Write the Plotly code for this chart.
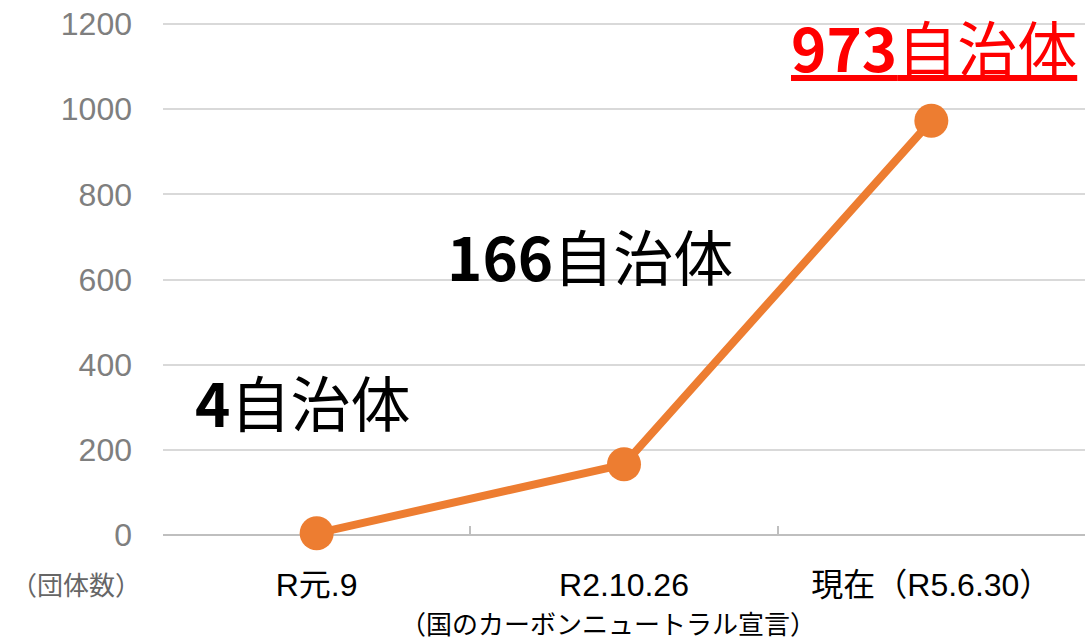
import plotly.graph_objects as go

categories = ["R元.9", "R2.10.26", "現在（R5.6.30）"]
category_notes = ["", "（国のカーボンニュートラル宣言）", ""]
values = [4, 166, 973]
value_labels = ["4自治体", "166自治体", "973自治体"]
y_ticks = [0, 200, 400, 600, 800, 1000, 1200]
y_title = "（団体数）"

ORANGE = "#ED7D31"
FONT = "Liberation Sans, Noto Sans CJK JP, sans-serif"
JP = "Noto Sans CJK JP, sans-serif"

fig = go.Figure()
fig.add_trace(go.Scatter(
    x=categories, y=values, mode="lines+markers",
    line=dict(color=ORANGE, width=8),
    marker=dict(color=ORANGE, size=34),
    hoverinfo="skip", showlegend=False, cliponaxis=False,
))

fig.update_layout(
    width=1092, height=640,
    margin=dict(l=163, r=7, t=22, b=105, autoexpand=False),
    paper_bgcolor="white", plot_bgcolor="white",
    font=dict(family=FONT),
    xaxis=dict(
        type="category", range=[-0.5, 2.5], automargin=False,
        tickmode="array", tickvals=categories, ticktext=categories, tickangle=0,
        tickson="boundaries", ticks="inside", ticklen=9, tickcolor="#bfbfbf", tickwidth=2,
        showline=False, showgrid=False, zeroline=False,
        tickfont=dict(size=32, color="#000000", family=FONT),
        ticklabelstandoff=28,
    ),
    yaxis=dict(
        range=[0, 1205], tickvals=y_ticks, automargin=False,
        showgrid=True, gridcolor="#d9d9d9", gridwidth=2,
        zeroline=True, zerolinecolor="#bfbfbf", zerolinewidth=2,
        tickfont=dict(size=32, color="#7f7f7f", family=FONT),
        ticklabelstandoff=30, showline=False, ticklabeloverflow="allow",
    ),
)

# notes under category labels
for c, n in zip(categories, category_notes):
    if n:
        fig.add_annotation(
            x=c, xref="x", y=-0.171, yref="paper", text=n, showarrow=False,
            font=dict(size=26, color="#000000", family=JP),
            xanchor="center", yanchor="middle", xshift=-16,
        )

# value labels
ann_pos = [(-0.045, 317), (0.89, 658), (2.01, 1150)]
for i, (lbl, (ax_, ay_)) in enumerate(zip(value_labels, ann_pos)):
    num = lbl.replace("自治体", "")
    if i == 2:
        txt = "<u><b>" + num + "</b>自治体</u>"
        col = "#ff0000"
    else:
        txt = "<b>" + num + "</b>自治体"
        col = "#000000"
    fig.add_annotation(
        x=ax_, y=ay_, xref="x", yref="y", text=txt, showarrow=False,
        font=dict(size=60, color=col, family=JP),
        xanchor="center", yanchor="middle",
    )

fig.add_annotation(
    x=(76 - 163) / 922, y=-48 / 513, xref="paper", yref="paper",
    text=y_title, showarrow=False,
    font=dict(size=26, color="#666666", family=JP),
    xanchor="center", yanchor="middle",
)

fig.write_html(
    "out.html",
    config={"displayModeBar": False, "staticPlot": True},
    post_script="document.body.style.margin='0';document.body.style.overflow='hidden';",
)
